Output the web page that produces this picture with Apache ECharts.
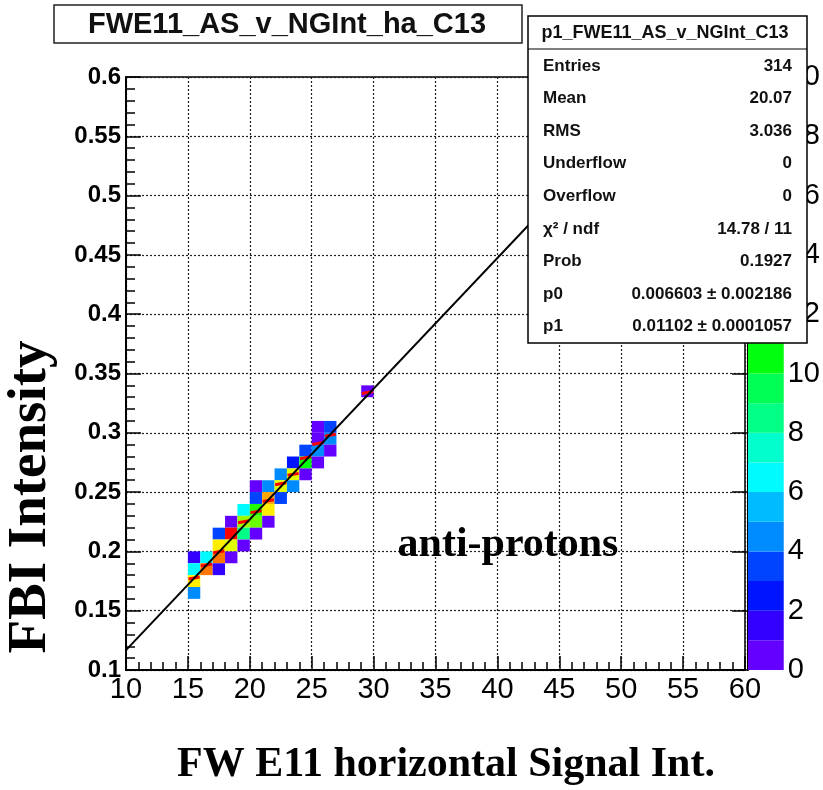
<!DOCTYPE html>
<html>
<head>
<meta charset="utf-8">
<title>FWE11_AS_v_NGInt_ha_C13</title>
<script src="https://cdn.jsdelivr.net/npm/echarts@6.0.0/dist/echarts.min.js"></script>
<style>
html, body { margin: 0; padding: 0; background: #fff; }
#chart { width: 823px; height: 790px; }
</style>
</head>
<body>
<div id="chart"></div>
<script>
// 2D bins: [x low edge, y low edge, z]  (bin size 1 x 0.01)
var cells = [
    [15, 0.19, 1.5], [15, 0.18, 6.5], [15, 0.17, 15.5], [15, 0.16, 4.5],
    [16, 0.19, 6.5], [16, 0.18, 17.5],
    [17, 0.21, 3.5], [17, 0.20, 15.5], [17, 0.19, 17.5], [17, 0.18, 1.5],
    [18, 0.22, 0.5], [18, 0.21, 19.5], [18, 0.20, 14.5], [18, 0.19, 0.5],
    [19, 0.23, 6.5], [19, 0.22, 13.5], [19, 0.21, 8.5], [19, 0.20, 0.5],
    [20, 0.25, 0.5], [20, 0.24, 3.5], [20, 0.23, 11.5], [20, 0.22, 12.5], [20, 0.21, 0.5],
    [21, 0.25, 4.5], [21, 0.24, 16.5], [21, 0.23, 15.5], [21, 0.22, 0.5],
    [22, 0.26, 4.5], [22, 0.25, 14.5], [22, 0.24, 3.5],
    [23, 0.27, 2.5], [23, 0.26, 14.5], [23, 0.25, 4.5],
    [24, 0.28, 3.5], [24, 0.27, 10.5], [24, 0.26, 0.5],
    [25, 0.30, 0.5], [25, 0.29, 0.5], [25, 0.28, 4.5], [25, 0.27, 0.5],
    [26, 0.30, 3.5], [26, 0.29, 4.5], [26, 0.28, 0.5],
    [29, 0.33, 0.5]
];
// profile means: [x low edge, mean y]
var profile = [
    [15, 0.1776], [16, 0.1886], [17, 0.1997], [18, 0.2180], [19, 0.2250],
    [20, 0.2335], [21, 0.2428], [22, 0.2570], [23, 0.2650], [24, 0.2790],
    [25, 0.2910], [26, 0.2980], [29, 0.3340]
];
var fitLine = [[10, 0.1168], [53.85, 0.6]];

var xTicks = { min: 10, max: 60, step: 5 };
var yTicks = { min: 0.1, max: 0.6, step: 0.05 };
var zTicks = { min: 0, max: 20, step: 2 };

var paletteLevels = [0, 1, 2, 3, 4, 5, 6, 7, 8, 9, 10, 11, 12, 13, 14, 15, 16, 17, 18, 19];
var paletteColors = ["#6300ff", "#3300ff", "#0014ff", "#0044ff", "#008bff", "#00bbff", "#00fbff",
    "#00ffcc", "#00ff85", "#00ff55", "#00ff0e", "#22ff00", "#69ff00", "#99ff00", "#e0ff00",
    "#ffee00", "#ffa700", "#ff7700", "#ff3000", "#ff0000"];

var statsTitle = "p1_FWE11_AS_v_NGInt_C13";
var statsLabels = ["Entries", "Mean", "RMS", "Underflow", "Overflow", "\u03c7\u00b2 / ndf", "Prob", "p0", "p1"];
var statsValues = ["314", "20.07", "3.036", "0", "0", "14.78 / 11", "0.1927",
    "0.006603 \u00b1 0.002186", "0.01102 \u00b1 0.0001057"];

var histTitle = "FWE11_AS_v_NGInt_ha_C13";
var xTitle = "FW E11 horizontal Signal Int.";
var yTitle = "FBI Intensity";
var note = "anti-protons";

var sans = "'Liberation Sans', Arial, sans-serif";
var serif = "'Liberation Serif', 'Times New Roman', serif";

var chart = echarts.init(document.getElementById("chart"));

// stats box texts
var statsGraphic = [
    { type: 'rect', z: 100, shape: { x: 528, y: 16, width: 279, height: 327 },
      style: { fill: '#fff', stroke: '#000', lineWidth: 1.5 } },
    { type: 'line', z: 101, shape: { x1: 528, y1: 49, x2: 807, y2: 49 },
      style: { stroke: '#000', lineWidth: 1.2 } },
    { type: 'text', z: 101, x: 665, y: 33,
      style: { text: statsTitle, font: 'bold 18px ' + sans, fill: '#111', align: 'center', verticalAlign: 'middle' } }
];
statsLabels.forEach(function (lab, i) {
    var y = 66 + i * 32.6;
    statsGraphic.push({ type: 'text', z: 101, x: 543, y: y,
        style: { text: lab, font: 'bold 17px ' + sans, fill: '#111', align: 'left', verticalAlign: 'middle' } });
    statsGraphic.push({ type: 'text', z: 101, x: 792, y: y,
        style: { text: statsValues[i], font: 'bold 17px ' + sans, fill: '#111', align: 'right', verticalAlign: 'middle' } });
});

var option = {
    backgroundColor: '#fff',
    animation: false,
    grid: [
        { left: 126, top: 77, width: 619, height: 593, show: true, borderColor: '#000', borderWidth: 1.5 },
        { left: 748, top: 77, width: 38, height: 593, show: false }
    ],
    xAxis: [
        {
            gridIndex: 0, type: 'value', min: xTicks.min, max: xTicks.max, interval: xTicks.step,
            axisLine: { show: true, onZero: false, lineStyle: { color: '#000', width: 2 } },
            axisTick: { show: true, inside: true, length: 14, lineStyle: { color: '#000', width: 1.5 } },
            minorTick: { show: true, splitNumber: 5, length: 8, lineStyle: { color: '#000', width: 1.5 } },
            splitLine: { show: true, lineStyle: { color: '#222', width: 1.2, type: [2, 2] } },
            axisLabel: { color: '#000', fontSize: 29, fontFamily: sans, margin: 5 }
        },
        {
            gridIndex: 1, type: 'value', min: 0, max: 1, show: false
        }
    ],
    yAxis: [
        {
            gridIndex: 0, type: 'value', min: yTicks.min, max: yTicks.max, interval: yTicks.step,
            axisLine: { show: true, onZero: false, lineStyle: { color: '#000', width: 2 } },
            axisTick: { show: true, inside: true, length: 15, lineStyle: { color: '#000', width: 1.5 } },
            minorTick: { show: true, splitNumber: 5, length: 9, lineStyle: { color: '#000', width: 1.5 } },
            splitLine: { show: true, lineStyle: { color: '#222', width: 1.2, type: [2, 2] } },
            axisLabel: {
                color: '#000', fontSize: 24, fontWeight: 'bold', fontFamily: sans, margin: 5,
                formatter: function (v) { return String(Math.round(v * 100) / 100); }
            }
        },
        {
            gridIndex: 1, type: 'value', min: zTicks.min, max: zTicks.max, interval: zTicks.step,
            position: 'right',
            axisLine: { show: true, lineStyle: { color: '#000', width: 2 } },
            axisTick: { show: true, inside: true, length: 16, lineStyle: { color: '#000', width: 1.5 } },
            splitLine: { show: false },
            axisLabel: { color: '#000', fontSize: 29, fontFamily: sans, margin: 4 }
        }
    ],
    series: [
        {
            type: 'custom', name: 'bins', xAxisIndex: 0, yAxisIndex: 0, clip: true, z: 2,
            data: cells,
            renderItem: function (params, api) {
                var x = api.value(0), y = api.value(1), v = api.value(2);
                var a = api.coord([x, y + 0.01]);
                var b = api.coord([x + 1, y]);
                return {
                    type: 'rect',
                    shape: { x: a[0], y: a[1], width: b[0] - a[0], height: b[1] - a[1] },
                    style: { fill: paletteColors[Math.min(19, Math.floor(v))] }
                };
            }
        },
        {
            type: 'custom', name: 'profile', xAxisIndex: 0, yAxisIndex: 0, clip: true, z: 3,
            data: profile,
            renderItem: function (params, api) {
                var x = api.value(0), y = api.value(1);
                var a = api.coord([x + 0.05, y - 0.0008]);
                var b = api.coord([x + 0.95, y + 0.0008]);
                return {
                    type: 'line',
                    shape: { x1: a[0], y1: a[1], x2: b[0], y2: b[1] },
                    style: { stroke: '#ff0000', lineWidth: 3 }
                };
            }
        },
        {
            type: 'line', name: 'fit', xAxisIndex: 0, yAxisIndex: 0, z: 4,
            data: fitLine, symbol: 'none', clip: true,
            lineStyle: { color: '#000', width: 2 }
        },
        {
            type: 'custom', name: 'palette', xAxisIndex: 1, yAxisIndex: 1, z: 2,
            data: paletteLevels,
            renderItem: function (params, api) {
                var k = api.value(0);
                var a = api.coord([0, k + 1]);
                var b = api.coord([1, k]);
                return {
                    type: 'rect',
                    shape: { x: a[0], y: a[1], width: b[0] - a[0], height: b[1] - a[1] },
                    style: { fill: paletteColors[k] }
                };
            },
            encode: { y: 0 }
        }
    ],
    graphic: [
        { type: 'rect', z: 90, shape: { x: 54, y: 5, width: 468, height: 38 },
          style: { fill: '#fff', stroke: '#222', lineWidth: 1.5 } },
        { type: 'text', z: 91, x: 287, y: 25,
          style: { text: histTitle, font: 'bold 29px ' + sans, fill: '#111', align: 'center', verticalAlign: 'middle' } },
        { type: 'text', z: 91, x: 508, y: 545,
          style: { text: note, font: 'bold 42px ' + serif, fill: '#000', align: 'center', verticalAlign: 'middle' } },
        { type: 'text', z: 91, x: 446, y: 765,
          style: { text: xTitle, font: 'bold 42px ' + serif, fill: '#000', align: 'center', verticalAlign: 'middle' } },
        { type: 'text', z: 91, x: 31, y: 497, rotation: Math.PI / 2,
          style: { text: yTitle, font: 'bold 55px ' + serif, fill: '#000', align: 'center', verticalAlign: 'middle' } }
    ].concat(statsGraphic)
};
chart.setOption(option);
</script>
</body>
</html>
